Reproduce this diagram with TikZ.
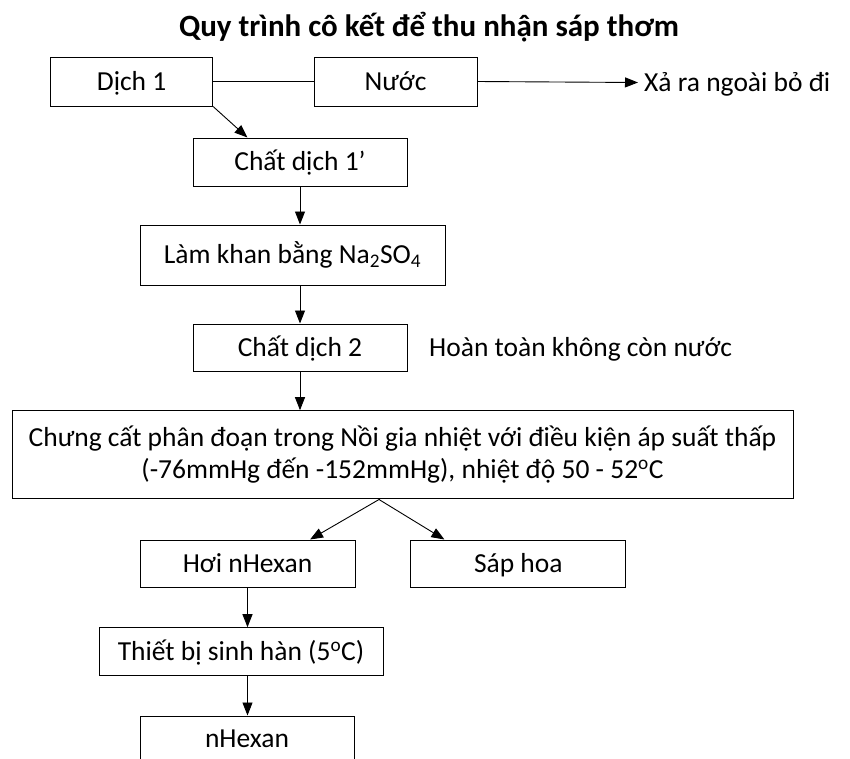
\documentclass[tikz,border=0pt]{standalone}
\usepackage{fontspec}
\setmainfont{Carlito}
\usetikzlibrary{arrows.meta}

\begin{document}
\begin{tikzpicture}[x=1pt,y=-1pt,
  box/.style={draw=black,line width=1pt,inner sep=0pt,text height=20pt,text depth=3pt,font=\fontsize{27.5}{32}\selectfont},
  lbl/.style={inner sep=0pt,text height=20pt,text depth=3pt,font=\fontsize{27.5}{32}\selectfont},
  flow/.style={-{Triangle[length=13pt,width=10pt]},line width=0.9pt}]
\clip (0,0) rectangle (850,758);
\node [font=\bfseries\fontsize{31}{36}\selectfont] (title) at (429,27) {Quy trình cô kết để thu nhận sáp thơm};
\node [box,minimum width=162pt,minimum height=49pt] (dich1) at (131.6,81.5) {Dịch 1};
\node [box,minimum width=163pt,minimum height=49pt] (nuoc) at (395.5,81.5) {Nước};
\node [lbl,anchor=west] (xa) at (644,82.5) {Xả ra ngoài bỏ đi};
\node [box,minimum width=214pt,minimum height=48pt] (chat1) at (300,162) {Chất dịch 1’};
\node [box,minimum width=305pt,minimum height=60pt] (lamkhan) at (292.5,255) {Làm khan bằng Na\textsubscript{2}SO\textsubscript{4}};
\node [box,minimum width=214pt,minimum height=47pt] (chat2) at (300,347.5) {Chất dịch 2};
\node [lbl,anchor=west] (khong) at (429,348) {Hoàn toàn không còn nước};
\node [draw=black,line width=1pt,inner sep=0pt,font=\fontsize{27.5}{32}\selectfont,
  minimum width=781pt,minimum height=88pt,align=center] (chung) at (402.5,454.7)
  {Chưng cất phân đoạn trong Nồi gia nhiệt với điều kiện áp suất thấp\\(-76mmHg đến -152mmHg), nhiệt độ 50 - 52\textsuperscript{o}C};
\node [box,minimum width=215pt,minimum height=47pt] (hoi) at (247.5,563.5) {Hơi nHexan};
\node [box,minimum width=215pt,minimum height=47pt] (sap) at (518.3,563.5) {Sáp hoa};
\node [box,minimum width=284pt,minimum height=48pt] (thiet) at (241,651.7) {Thiết bị sinh hàn (5\textsuperscript{o}C)};
\node [box,minimum width=214pt,minimum height=45pt] (nhex) at (247,738.5) {nHexan};
\coordinate (fork) at (379,499.5);
\draw [line width=0.9pt] (dich1.east) -- (nuoc.west);
\draw [flow] (nuoc.east) -- ([xshift=-6pt]xa.west);
\draw [flow] (dich1.south east) -- (chat1.155);
\draw [flow] (chat1.south) -- (chat1.south |- lamkhan.north);
\draw [flow] (chat2.north |- lamkhan.south) -- (chat2.north);
\draw [flow] (chat2.south) -- (chat2.south |- chung.north);
\draw [line width=0.9pt] (chung.south -| fork) -- (fork);
\draw [flow] (fork) -- (hoi.21);
\draw [flow] (fork) -- (sap.162);
\draw [flow] (hoi.south) -- (hoi.south |- thiet.north);
\draw [flow] (hoi.south |- thiet.south) -- (hoi.south |- nhex.north);
\end{tikzpicture}
\end{document}
